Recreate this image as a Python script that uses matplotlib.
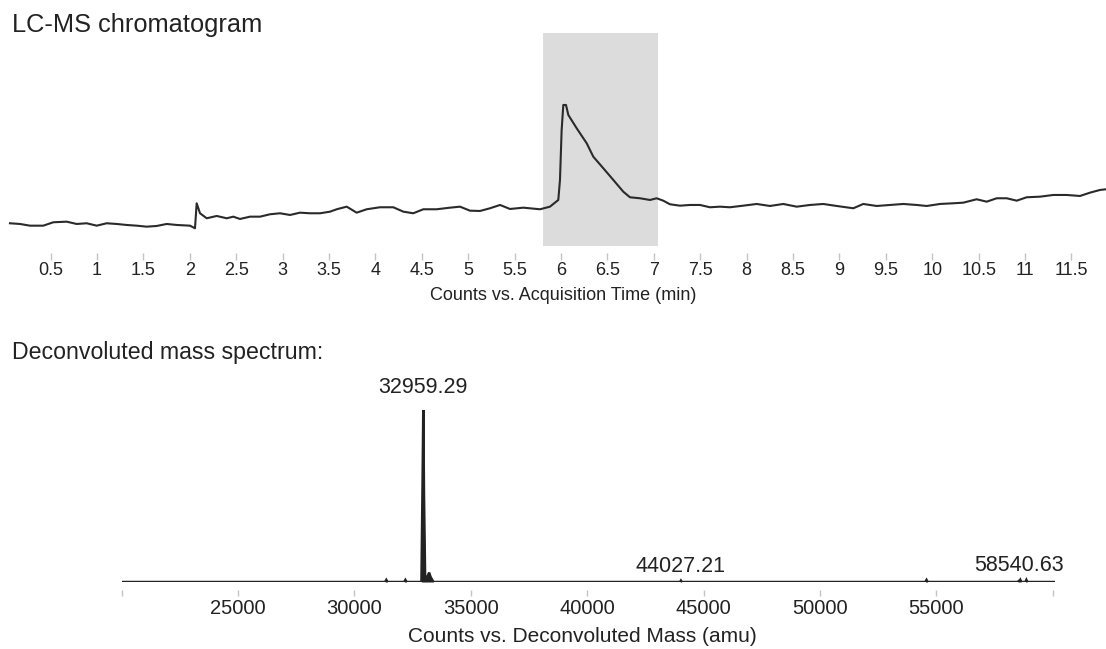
### LC-MS chromatogram + deconvoluted mass spectrum
import matplotlib
matplotlib.use('Agg')
import matplotlib.pyplot as plt

plt.rcParams['font.family'] = ['Liberation Sans', 'DejaVu Sans']

## -- chromatogram: acquisition time (min) and counts (x10^6)
time_min = [0.061, 0.169, 0.277, 0.420, 0.528, 0.672, 0.780, 0.888, 0.996, 1.103,
            1.211, 1.319, 1.427, 1.534, 1.642, 1.750, 1.858, 2.001, 2.055, 2.073,
            2.109, 2.181, 2.289, 2.397, 2.468, 2.540, 2.648, 2.756, 2.863, 2.971,
            3.079, 3.186, 3.294, 3.402, 3.510, 3.582, 3.690, 3.797, 3.905, 4.048,
            4.192, 4.300, 4.407, 4.515, 4.659, 4.803, 4.911, 5.018, 5.126, 5.234,
            5.342, 5.449, 5.593, 5.773, 5.880, 5.970, 5.988, 6.006, 6.024, 6.053,
            6.078, 6.168, 6.276, 6.347, 6.455, 6.563, 6.670, 6.742, 6.850, 6.958,
            7.030, 7.101, 7.173, 7.281, 7.389, 7.497, 7.604, 7.712, 7.820, 7.963,
            8.108, 8.251, 8.394, 8.539, 8.682, 8.825, 8.970, 9.149, 9.256, 9.401,
            9.544, 9.688, 9.832, 9.940, 10.083, 10.227, 10.334, 10.478, 10.586, 10.694,
            10.802, 10.910, 11.017, 11.161, 11.304, 11.448, 11.592, 11.699, 11.807, 11.872]
counts = [1.135, 1.10, 1.015, 1.015, 1.185, 1.215, 1.10, 1.135, 1.015, 1.135,
          1.10, 1.05, 1.015, 0.965, 1.00, 1.10, 1.05, 1.015, 0.885, 2.135,
          1.635, 1.385, 1.50, 1.385, 1.465, 1.35, 1.465, 1.465, 1.585, 1.635,
          1.55, 1.665, 1.635, 1.635, 1.715, 1.835, 1.965, 1.665, 1.835, 1.935,
          1.935, 1.715, 1.635, 1.835, 1.835, 1.915, 1.965, 1.765, 1.75, 1.885,
          2.05, 1.85, 1.915, 1.835, 1.965, 2.30, 3.30, 5.80, 7.05, 7.05,
          6.55, 5.885, 5.135, 4.465, 3.885, 3.30, 2.715, 2.435, 2.385, 2.30,
          2.385, 2.265, 2.085, 2.015, 2.05, 2.05, 1.935, 1.965, 1.935, 2.015,
          2.10, 2.00, 2.10, 1.965, 2.05, 2.10, 2.00, 1.885, 2.10, 2.00,
          2.05, 2.10, 2.05, 2.00, 2.10, 2.135, 2.165, 2.335, 2.215, 2.385,
          2.385, 2.265, 2.435, 2.465, 2.55, 2.55, 2.50, 2.665, 2.80, 2.835]
time_ticks = [0.5, 1, 1.5, 2, 2.5, 3, 3.5, 4, 4.5, 5, 5.5, 6,
              6.5, 7, 7.5, 8, 8.5, 9, 9.5, 10, 10.5, 11, 11.5]
# integrated window
window = (5.808, 7.04)

## -- deconvoluted spectrum: mass (amu) and relative abundance (%)
mass = [20000, 31320, 31370, 31420, 32140, 32190, 32240, 32880, 32930, 32959.29,
        32990, 33040, 33090, 33150, 33210, 33270, 33330, 33400, 43990, 44027.21,
        44065, 54530, 54580, 54630, 58500, 58540.63, 58580, 58610, 58650, 58830,
        58870, 58910, 60100]
abundance = [0, 0, 1.2, 0, 0, 1.2, 0, 0, 60, 100,
             50, 0, 2.5, 3.5, 5.5, 3, 1.5, 0, 0, 0.8,
             0, 0, 1.2, 0, 0, 0.6, 0.4, 1.2, 0, 0,
             1.2, 0, 0]
mass_ticks = [20000, 25000, 30000, 35000, 40000, 45000, 50000, 55000, 60000]
mass_labels = ['', '25000', '30000', '35000', '40000', '45000', '50000', '55000', '']
# labelled peaks and text offsets (points)
peak_labels = [(32959.29, 100, 16), (44027.21, 0.8, 10.5), (58540.63, 0.6, 11.5)]

txt = '#222222'
tick_grey = '#c4c4c4'

fig = plt.figure(figsize=(11.06, 6.49), dpi=100)

# top panel
ax1 = fig.add_axes([0.0, 0.6210, 1.0, 0.3282])
ax1.axvspan(window[0], window[1], color='#dcdcdc', lw=0, zorder=0)
ax1.plot(time_min, counts, color='#2a2a2a', lw=1.5, zorder=2)
ax1.set_xlim(-0.0463, 11.872)
ax1.set_ylim(0, 10.65)
for s in ['left', 'right', 'top']:
    ax1.spines[s].set_visible(False)
ax1.spines['bottom'].set_position(('outward', 5))
ax1.spines['bottom'].set_visible(False)
ax1.set_yticks([])
ax1.set_xticks(time_ticks)
ax1.set_xticklabels(['%g' % t for t in time_ticks])
ax1.tick_params(axis='x', direction='out', length=5, width=1, color=tick_grey,
                labelsize=13, labelcolor=txt, pad=1.5)
fig.text(12 / 1106, 1 - 25 / 649, 'LC-MS chromatogram', fontsize=18.3, color=txt,
         ha='left', va='center')
fig.text(563.5 / 1106, 1 - 295 / 649, 'Counts vs. Acquisition Time (min)',
         fontsize=13, color=txt, ha='center', va='center')

# bottom panel
ax2 = fig.add_axes([0.1100, 0.1032, 0.8439, 0.2804])
ax2.fill_between(mass, abundance, 0, color='#222222', lw=0)
ax2.plot(mass, abundance, color='#222222', lw=1.8, solid_joinstyle='miter')
ax2.set_xlim(20000, 60100)
ax2.set_ylim(0, 105.8)
for s in ['left', 'right', 'top']:
    ax2.spines[s].set_visible(False)
ax2.spines['bottom'].set_position(('outward', 6))
ax2.spines['bottom'].set_visible(False)
ax2.set_yticks([])
ax2.set_xticks(mass_ticks)
ax2.set_xticklabels(mass_labels)
ax2.tick_params(axis='x', direction='out', length=4, width=1, color=tick_grey,
                labelsize=14.5, labelcolor=txt, pad=2)
for m, a, off in peak_labels:
    ax2.annotate('%.2f' % m, xy=(m, a), xytext=(0, off), textcoords='offset points',
                 ha='center', va='center', fontsize=15.5, color=txt)
fig.text(12 / 1106, 1 - 352 / 649, 'Deconvoluted mass spectrum:', fontsize=16.7,
         color=txt, ha='left', va='center')
fig.text(582.5 / 1106, 1 - 637 / 649, 'Counts vs. Deconvoluted Mass (amu)',
         fontsize=15, color=txt, ha='center', va='center')

plt.savefig('out.png', dpi=100)
